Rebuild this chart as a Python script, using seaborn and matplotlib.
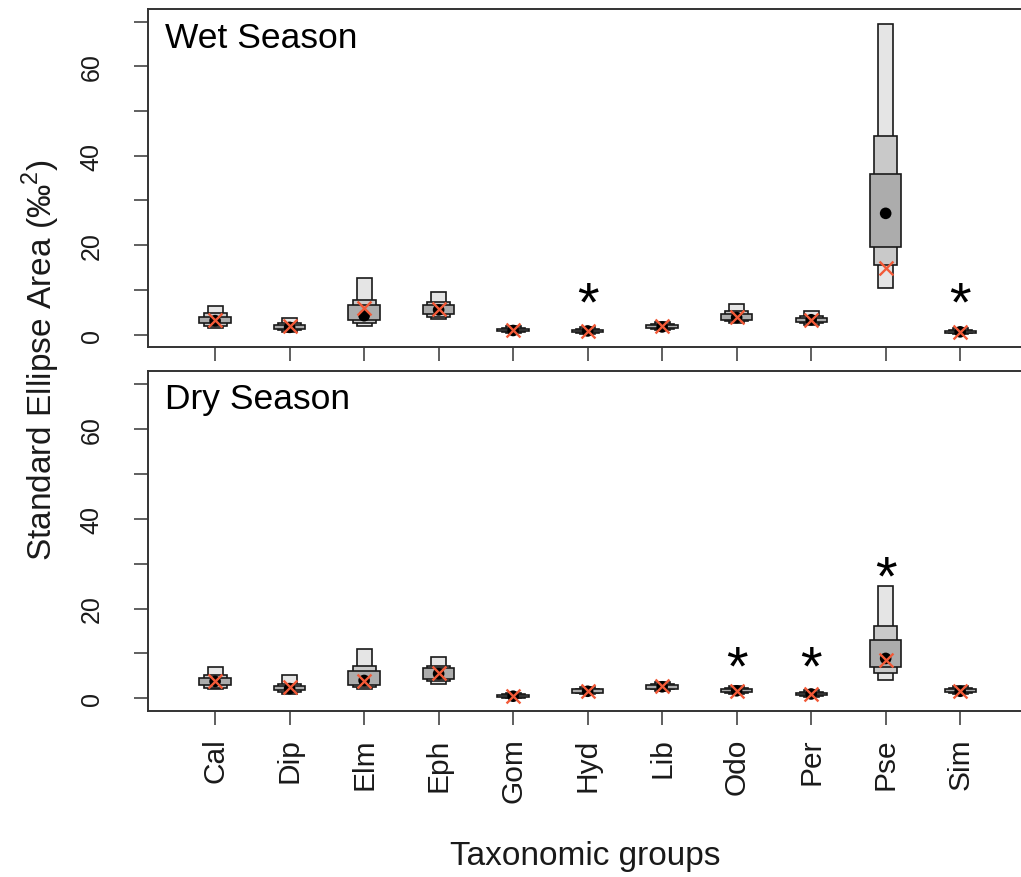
import pandas as pd
import seaborn as sns
from matplotlib import pyplot as plt

groups = ['Cal', 'Dip', 'Elm', 'Eph', 'Gom', 'Hyd', 'Lib', 'Odo', 'Per', 'Pse', 'Sim']

# wet season credible intervals (95 / 75 / 50 %), mode and SEAc
wet_lo95 = [1.5, 0.6, 1.8, 3.4, 0.3, 0.2, 0.9, 2.5, 2.2, 10.5, 0.1]
wet_hi95 = [6.3, 3.8, 12.7, 9.6, 2.0, 1.6, 2.8, 6.8, 5.3, 69.5, 1.4]
wet_lo75 = [2.0, 0.9, 2.5, 4.0, 0.5, 0.4, 1.2, 3.0, 2.6, 15.6, 0.3]
wet_hi75 = [4.8, 2.6, 7.8, 7.3, 1.5, 1.2, 2.4, 5.2, 4.2, 44.5, 1.0]
wet_lo50 = [2.5, 1.2, 3.2, 4.5, 0.7, 0.5, 1.4, 3.3, 2.9, 19.6, 0.4]
wet_hi50 = [4.0, 2.2, 6.5, 6.7, 1.3, 1.0, 2.2, 4.7, 3.8, 35.8, 0.8]
wet_mode = [3.1, 1.6, 4.2, 5.5, 0.9, 0.8, 1.7, 3.8, 3.3, 27.1, 0.6]
wet_seac = [3.3, 1.8, 5.9, 5.7, 1.0, 0.7, 1.8, 3.9, 3.3, 14.9, 0.5]
wet_star = ['Hyd', 'Sim']
wet_star_y = [9.5, 9.5]

# dry season
dry_lo95 = [2.0, 1.0, 2.0, 3.2, 0.1, 1.0, 1.6, 1.0, 0.4, 4.0, 0.9]
dry_hi95 = [7.0, 5.3, 11.0, 9.3, 1.2, 2.5, 3.7, 2.7, 1.8, 25.1, 2.7]
dry_lo75 = [2.4, 1.4, 2.5, 3.8, 0.2, 1.2, 2.0, 1.2, 0.6, 5.6, 1.2]
dry_hi75 = [5.3, 3.2, 7.3, 7.3, 0.9, 2.2, 3.3, 2.4, 1.5, 16.2, 2.3]
dry_lo50 = [2.9, 1.8, 3.0, 4.3, 0.3, 1.3, 2.2, 1.4, 0.7, 7.1, 1.4]
dry_hi50 = [4.6, 2.8, 6.0, 6.8, 0.7, 2.0, 3.0, 2.2, 1.3, 12.9, 2.1]
dry_mode = [3.8, 2.2, 4.0, 5.5, 0.5, 1.6, 2.6, 1.7, 1.0, 8.9, 1.6]
dry_seac = [3.9, 2.5, 3.8, 5.7, 0.5, 1.6, 2.7, 1.7, 1.0, 8.5, 1.6]
dry_star = ['Odo', 'Per', 'Pse']
dry_star_y = [9.6, 9.6, 29.5]

sns.set_style('ticks')
plt.rcParams['font.family'] = ['Liberation Sans', 'DejaVu Sans']
plt.rcParams['mathtext.fontset'] = 'custom'
plt.rcParams['mathtext.rm'] = 'Liberation Sans'

fig = plt.figure(figsize=(10.21, 8.78), dpi=100)
ax_wet = fig.add_axes([0.145, 0.6036, 0.86, 0.385])
ax_dry = fig.add_axes([0.145, 0.189, 0.86, 0.3873])

pos = list(range(len(groups)))


def draw_panel(ax, lo95, hi95, lo75, hi75, lo50, hi50, mode, seac, star, star_y, title, ty):
    df = pd.DataFrame({'x': pos, 'mode': mode, 'seac': seac})
    for lo, hi, w, c in [(lo95, hi95, 0.2, '#e5e5e5'),
                         (lo75, hi75, 0.31, '#c9c9c9'),
                         (lo50, hi50, 0.42, '#acacac')]:
        ax.bar(pos, [h - l for l, h in zip(lo, hi)], bottom=lo, width=w,
               color=c, edgecolor='#1a1a1a', linewidth=1.2, zorder=2)
    sns.scatterplot(data=df, x='x', y='mode', ax=ax, color='black', s=70,
                    edgecolor='none', zorder=3, legend=False)
    sns.scatterplot(data=df, x='x', y='seac', ax=ax, color='#f25a38', marker='x',
                    s=100, linewidth=1.7, zorder=4, legend=False)
    for g, y in zip(star, star_y):
        ax.annotate('*', (groups.index(g), y), xytext=(0, -10),
                    textcoords='offset points', ha='center', va='center',
                    fontsize=40, color='black', zorder=5)
    ax.text(0.019, ty, title, transform=ax.transAxes, fontsize=25.5,
            ha='left', va='center', color='black')
    ax.set_xlim(-0.9, 10.885)
    ax.set_ylim(-2.8, 72.8)
    ax.set_yticks(range(0, 71, 10))
    ax.set_yticklabels(['0', '', '20', '', '40', '', '60', ''],
                       rotation=90, va='center', fontsize=18, color='#1a1a1a')
    ax.set_xticks(pos)
    ax.set_xlabel('')
    ax.set_ylabel('')
    ax.tick_params(axis='y', length=10, width=1.2, color='#444444',
                   direction='out', pad=22)
    ax.tick_params(axis='x', length=10, width=1.2, color='#444444',
                   direction='out', pad=9)
    for s in ax.spines.values():
        s.set_visible(True)
        s.set_color('#333333')
        s.set_linewidth(1.4)


draw_panel(ax_wet, wet_lo95, wet_hi95, wet_lo75, wet_hi75, wet_lo50, wet_hi50,
           wet_mode, wet_seac, wet_star, wet_star_y, 'Wet Season', 0.915)
draw_panel(ax_dry, dry_lo95, dry_hi95, dry_lo75, dry_hi75, dry_lo50, dry_hi50,
           dry_mode, dry_seac, dry_star, dry_star_y, 'Dry Season', 0.92)

ax_wet.set_xticklabels([])
ax_dry.set_xticklabels(groups, rotation=90, fontsize=21.5, color='#1a1a1a')

fig.text(0.04, 0.59, 'Standard Ellipse Area (‰$^{2}$)', rotation=90,
         ha='center', va='center', fontsize=24, color='#1a1a1a')
fig.text(0.573, 0.024, 'Taxonomic groups', ha='center', va='center',
         fontsize=24, color='#1a1a1a')

fig.savefig('out.png', dpi=100)
